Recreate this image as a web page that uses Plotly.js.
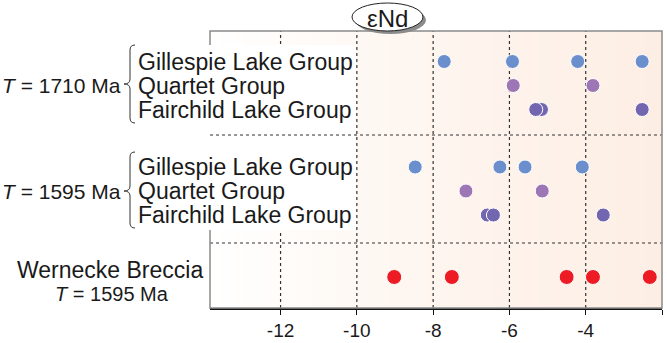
<!DOCTYPE html>
<html>
<head>
<meta charset="utf-8">
<script src="https://cdn.plot.ly/plotly-3.0.1.min.js"></script>
<style>html,body{margin:0;padding:0;background:#fff;}#chart{width:667px;height:343px;}</style>
</head>
<body>
<div id="chart"></div>
<script>
// ---- data (εNd values) ----
var gillespie1710 = [-7.71, -5.92, -4.21, -2.52];
var quartet1710   = [-5.90, -3.81];
var fairchild1710 = [-5.16, -5.31, -2.52];
var gillespie1595 = [-8.47, -6.25, -5.59, -4.09];
var quartet1595   = [-7.14, -5.14];
var fairchild1595 = [-6.58, -6.42, -3.54];
var wernecke1595  = [-9.02, -7.51, -4.50, -3.81, -2.32];
var groupNames = ['Gillespie Lake Group', 'Quartet Group', 'Fairchild Lake Group'];
var ageLabels = ['T = 1710 Ma', 'T = 1595 Ma'];
var xTicks = [-12, -10, -8, -6, -4, -2];

// ---- layout helpers ----
var W = 667, H = 343, ML = 210, MR = 5, MT = 31, MB = 35;
var PW = W - ML - MR, PH = H - MT - MB;
var X0 = -13.85, X1 = -2;
function px(x){ return (x - ML) / PW; }
function py(y){ return 1 - (y - MT) / PH; }
// row positions (y-axis units = pixels below plot top)
var rowY = {G1: 30.5, Q1: 54.5, F1: 78.5, G2: 136, Q2: 160, F2: 184, W: 246};
function rowArr(n, key){ var a=[]; for(var i=0;i<n;i++) a.push(rowY[key]); return a; }

var cBlue = '#6b8fcd', cPurple = '#9d77b5', cIndigo = '#7366b1', cRed = '#ed1c24';
function dots(xs, key, color, size){
  return {type:'scatter', mode:'markers', x: xs, y: rowArr(xs.length, key),
    marker:{color: color, size: size, line:{color:'#ffffff', width:1}},
    hoverinfo:'x', showlegend:false, cliponaxis:false};
}

var traces = [
  dots(gillespie1710, 'G1', cBlue, 14),
  dots(quartet1710, 'Q1', cPurple, 14),
  dots(fairchild1710, 'F1', cIndigo, 14),
  dots(gillespie1595, 'G2', cBlue, 14),
  dots(quartet1595, 'Q2', cPurple, 14),
  dots(fairchild1595, 'F2', cIndigo, 14),
  dots(wernecke1595, 'W', cRed, 15)
];

function bracePath(xTip, xEnd, yTop, yMid, yBot){
  var c = 5;
  return 'M' + px(xEnd) + ',' + py(yTop) +
    ' Q' + px(xEnd - c) + ',' + py(yTop) + ' ' + px(xEnd - c) + ',' + py(yTop + c) +
    ' L' + px(xEnd - c) + ',' + py(yMid - c) +
    ' Q' + px(xEnd - c) + ',' + py(yMid) + ' ' + px(xTip) + ',' + py(yMid) +
    ' Q' + px(xEnd - c) + ',' + py(yMid) + ' ' + px(xEnd - c) + ',' + py(yMid + c) +
    ' L' + px(xEnd - c) + ',' + py(yBot - c) +
    ' Q' + px(xEnd - c) + ',' + py(yBot) + ' ' + px(xEnd) + ',' + py(yBot);
}

// background gradient (white -> light peach)
var stops = [[0,[255,255,255]],[0.45,[254,246,240]],[1,[253,238,228]]];
function gradColor(t){
  for (var i = 1; i < stops.length; i++){
    if (t <= stops[i][0]){
      var a = stops[i-1], b = stops[i], f = (t - a[0]) / (b[0] - a[0]);
      var c = a[1].map(function(v, k){ return Math.round(v + (b[1][k] - v) * f); });
      return 'rgb(' + c.join(',') + ')';
    }
  }
  return 'rgb(253,238,228)';
}
var shapes = [];
var N = 80;
for (var i = 0; i < N; i++){
  var xa = X0 + (X1 - X0) * i / N, xb = X0 + (X1 - X0) * (i + 1) / N + 0.02;
  shapes.push({type:'rect', xref:'x', yref:'paper', x0:xa, x1:xb, y0:0, y1:1, layer:'below',
    line:{width:0}, fillcolor: gradColor((i + 0.5) / N)});
}
// vertical dotted grid lines at tick values (except the right edge)
xTicks.forEach(function(t){
  if (t > -3) return;
  shapes.push({type:'line', xref:'x', yref:'paper', x0:t, x1:t, y0:0, y1:1, layer:'between',
    line:{color:'#333333', width:1.2, dash:'dot'}});
});
// dotted separators
shapes.push({type:'line', xref:'paper', yref:'y', x0:0, x1:1, y0:104, y1:104, layer:'between',
  line:{color:'#333333', width:1.2, dash:'dot'}});
shapes.push({type:'line', xref:'paper', yref:'y', x0:0, x1:1, y0:212, y1:212, layer:'between',
  line:{color:'#333333', width:1.2, dash:'dot'}});
shapes = shapes.concat([
  // plot frame (gray)
  {type:'rect', xref:'paper', yref:'paper', x0:0, x1:1, y0:0, y1:1, layer:'above',
    line:{color:'#8a8a8a', width:1.5}, fillcolor:'rgba(0,0,0,0)'},
  // white label box covering left part of plot
  {type:'rect', xref:'paper', yref:'paper', x0:px(0), x1:px(355.5), y0:py(230), y1:py(45), layer:'above',
    line:{width:0}, fillcolor:'#ffffff'},
  // separator segment redrawn over the label box
  {type:'line', xref:'paper', yref:'y', x0:0, x1:px(356), y0:104, y1:104, layer:'above',
    line:{color:'#333333', width:1.2, dash:'dot'}},
  // braces
  {type:'path', xref:'paper', yref:'paper', layer:'above', path: bracePath(124, 135, 45, 84, 123),
    line:{color:'#333333', width:1}},
  {type:'path', xref:'paper', yref:'paper', layer:'above', path: bracePath(124, 135, 152, 191, 228),
    line:{color:'#333333', width:1}},
  // εNd ellipse shadow + ellipse
  {type:'circle', xref:'paper', yref:'paper', layer:'above', x0:px(355), x1:px(426), y0:py(34), y1:py(6),
    line:{width:0}, fillcolor:'#8c8c8c'},
  {type:'circle', xref:'paper', yref:'paper', layer:'above', x0:px(352), x1:px(423), y0:py(31), y1:py(3),
    line:{color:'#222222', width:1}, fillcolor:'#ffffff'}
]);

var fam = 'Liberation Sans, Arial, sans-serif';
var annotations = [];
var rowKeys = [['G1','Q1','F1'], ['G2','Q2','F2']];
for (var g = 0; g < 2; g++){
  for (var r = 0; r < 3; r++){
    annotations.push({xref:'paper', yref:'y', x:px(136), y:rowY[rowKeys[g][r]], xanchor:'left', yanchor:'middle',
      text: groupNames[r], showarrow:false, font:{family:fam, size:23, color:'#1a1a1a'}});
  }
  annotations.push({xref:'paper', yref:'y', x:px(123), y:rowY[rowKeys[g][1]], xanchor:'right', yanchor:'middle',
    text: ageLabels[g].replace('T', '<i>T</i>'), showarrow:false, font:{family:fam, size:21, color:'#1a1a1a'}});
}
annotations.push({xref:'paper', yref:'y', x:px(110), y:rowY.W - 7, xanchor:'center', yanchor:'middle',
  text:'Wernecke Breccia', showarrow:false, font:{family:fam, size:23, color:'#1a1a1a'}});
annotations.push({xref:'paper', yref:'y', x:px(112), y:rowY.W + 17, xanchor:'center', yanchor:'middle',
  text:'<i>T</i> = 1595 Ma', showarrow:false, font:{family:fam, size:20, color:'#1a1a1a'}});
annotations.push({xref:'paper', yref:'paper', x:px(387), y:py(18), xanchor:'center', yanchor:'middle',
  text:'εNd', showarrow:false, font:{family:fam, size:24, color:'#1a1a1a'}});

var layout = {
  width: W, height: H,
  margin:{l:ML, r:MR, t:MT, b:MB, pad:0},
  paper_bgcolor:'#ffffff', plot_bgcolor:'#ffffff',
  showlegend:false,
  xaxis:{range:[X0, X1], tickvals:xTicks, ticktext:xTicks.map(String), zeroline:false,
    showgrid:false,
    showline:true, linecolor:'#111111', linewidth:1.5, ticks:'outside', ticklen:5, tickcolor:'#111111',
    tickfont:{family:fam, size:19, color:'#1a1a1a'}, fixedrange:true},
  yaxis:{range:[277, 0], showgrid:false, zeroline:false, showticklabels:false, ticks:'', showline:false, fixedrange:true},
  shapes: shapes,
  annotations: annotations
};

Plotly.newPlot('chart', [].concat(traces), layout, {displayModeBar:false, staticPlot:true});
</script>
</body>
</html>
